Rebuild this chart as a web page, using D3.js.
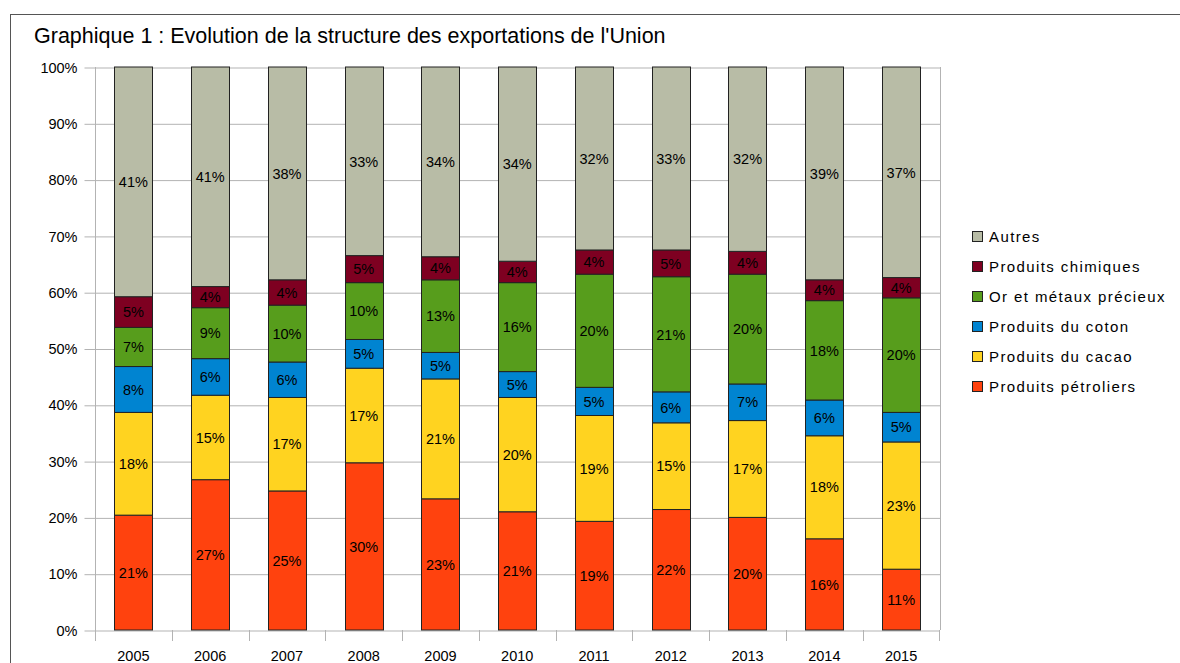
<!DOCTYPE html>
<html>
<head>
<meta charset="utf-8">
<title>Graphique 1 : Evolution de la structure des exportations de l'Union</title>
<style>
    body { margin: 0; background: #fff; }
    svg { display: block; font-family: "Liberation Sans", Arial, sans-serif; }
    .grid line { stroke: #b3b3b3; }
    .grid .domain { display: none; }
    .seg { stroke: #222; stroke-width: 1; }
    .val { font-size: 14.5px; fill: #000; text-anchor: middle; }
    .legend text { font-size: 15px; letter-spacing: 1.4px; fill: #000; }
</style>
</head>
<body>
<svg id="chart" width="1180" height="663"></svg>
<script src="https://d3js.org/d3.v7.min.js"></script>
<script>
// years and series, stacked bottom to top
const years = ['2005', '2006', '2007', '2008', '2009', '2010', '2011', '2012', '2013', '2014', '2015'];
const seriesNames = ['Produits pétroliers', 'Produits du cacao', 'Produits du coton',
    'Or et métaux précieux', 'Produits chimiques', 'Autres'];
const colors = ['#ff420e', '#ffd320', '#0084d1', '#579d1c', '#7e0021', '#b8bca6'];

// segment heights (% of the bar)
const petroliers = [20.4, 26.7, 24.7, 29.7, 23.3, 21.0, 19.3, 21.4, 20.0, 16.2, 10.8];
const cacao = [18.25, 15.0, 16.6, 16.8, 21.3, 20.3, 18.8, 15.4, 17.2, 18.3, 22.6];
const coton = [8.15, 6.5, 6.3, 5.1, 4.7, 4.6, 5.0, 5.5, 6.5, 6.35, 5.25];
const orMetaux = [6.95, 9.05, 10.1, 10.1, 12.9, 15.8, 20.1, 20.45, 19.5, 17.65, 20.35];
const chimiques = [5.45, 3.75, 4.5, 4.8, 4.1, 3.8, 4.3, 4.75, 4.05, 3.7, 3.6];
const autres = [40.8, 39.0, 37.8, 33.5, 33.7, 34.5, 32.5, 32.5, 32.75, 37.8, 37.4];

// printed labels (the chart shows its own rounded source values)
const lblPetroliers = [21, 27, 25, 30, 23, 21, 19, 22, 20, 16, 11];
const lblCacao = [18, 15, 17, 17, 21, 20, 19, 15, 17, 18, 23];
const lblCoton = [8, 6, 6, 5, 5, 5, 5, 6, 7, 6, 5];
const lblOr = [7, 9, 10, 10, 13, 16, 20, 21, 20, 18, 20];
const lblChimiques = [5, 4, 4, 5, 4, 4, 4, 5, 4, 4, 4];
const lblAutres = [41, 41, 38, 33, 34, 34, 32, 33, 32, 39, 37];

const yTicks = [0, 10, 20, 30, 40, 50, 60, 70, 80, 90, 100];

const values = [petroliers, cacao, coton, orMetaux, chimiques, autres];
const labels = [lblPetroliers, lblCacao, lblCoton, lblOr, lblChimiques, lblAutres];

const rows = years.map((yr, i) => {
    const r = { year: yr };
    seriesNames.forEach((s, k) => { r[s] = values[k][i]; });
    return r;
});

const svg = d3.select('#chart');
const plotLeft = 95, plotRight = 939.5, plotTop = 67, plotBottom = 630;

// frame
svg.append('rect')
    .attr('x', 10.5).attr('y', 14.5)
    .attr('width', 1300).attr('height', 800)
    .attr('fill', 'none').attr('stroke', '#555');

svg.append('text')
    .attr('x', 34).attr('y', 43)
    .attr('font-size', 21.5)
    .attr('fill', '#000')
    .text("Graphique 1 : Evolution de la structure des exportations de l'Union");

const x = d3.scaleBand().domain(years).range([plotLeft, plotRight])
    .paddingInner(0.5).paddingOuter(0.25);
const y = d3.scaleLinear().domain([0, 100]).range([plotBottom, plotTop]);

// gridlines + y ticks
const gy = svg.append('g').attr('class', 'grid')
    .attr('transform', `translate(${plotLeft + 0.5},0.5)`)
    .call(d3.axisLeft(y).tickValues(yTicks).tickFormat(d => d + '%')
        .tickSize(11).tickPadding(7));
gy.selectAll('.tick text').attr('font-size', 14.5).attr('fill', '#000')
    .attr('font-family', '"Liberation Sans", Arial, sans-serif');
gy.selectAll('.tick').append('line')
    .attr('x1', 0).attr('x2', plotRight - plotLeft);

// right border of plot and y axis line
svg.append('line')
    .attr('x1', Math.round(plotRight) + 0.5).attr('x2', Math.round(plotRight) + 0.5)
    .attr('y1', plotTop).attr('y2', plotBottom)
    .attr('stroke', '#b3b3b3');
svg.append('line')
    .attr('x1', plotLeft + 0.5).attr('x2', plotLeft + 0.5)
    .attr('y1', plotTop).attr('y2', plotBottom + 11)
    .attr('stroke', '#b3b3b3');

// x axis: ticks between categories
const step = x.step();
const xb = svg.append('g');
xb.selectAll('line')
    .data(d3.range(years.length + 1))
    .join('line')
    .attr('x1', i => Math.round(plotLeft + i * step) + 0.5)
    .attr('x2', i => Math.round(plotLeft + i * step) + 0.5)
    .attr('y1', plotBottom).attr('y2', plotBottom + 11)
    .attr('stroke', '#b3b3b3');
xb.selectAll('text')
    .data(years)
    .join('text')
    .attr('x', d => x(d) + x.bandwidth() / 2)
    .attr('y', 661)
    .attr('text-anchor', 'middle')
    .attr('font-size', 14.5)
    .attr('fill', '#000')
    .text(d => d);

// stacked bars
const stacked = d3.stack().keys(seriesNames)(rows);

const layers = svg.append('g').selectAll('g')
    .data(stacked)
    .join('g')
    .attr('fill', (d, k) => colors[k]);

layers.selectAll('rect')
    .data(d => d)
    .join('rect')
    .attr('class', 'seg')
    .attr('x', d => Math.round(x(d.data.year)) + 0.5)
    .attr('width', Math.round(x.bandwidth()))
    .attr('y', d => y(d[1]))
    .attr('height', d => y(d[0]) - y(d[1]));

layers.selectAll('text')
    .data((d, k) => d.map((p, i) => ({ p, lbl: labels[k][i] })))
    .join('text')
    .attr('class', 'val')
    .attr('x', d => x(d.p.data.year) + x.bandwidth() / 2)
    .attr('y', d => (y(d.p[0]) + y(d.p[1])) / 2)
    .attr('dy', '0.36em')
    .text(d => d.lbl + '%');

// legend, top entry is Autres
const legend = svg.append('g').attr('class', 'legend');
const order = seriesNames.map((s, k) => k).reverse();
const item = legend.selectAll('g')
    .data(order)
    .join('g')
    .attr('transform', (k, i) => `translate(972,${237 + i * 30})`);
item.append('rect')
    .attr('x', 0.5).attr('y', -5.5)
    .attr('width', 10).attr('height', 10)
    .attr('fill', k => colors[k])
    .attr('stroke', '#222');
item.append('text')
    .attr('x', 17).attr('y', 0)
    .attr('dy', '0.35em')
    .text(k => seriesNames[k]);
</script>
</body>
</html>
